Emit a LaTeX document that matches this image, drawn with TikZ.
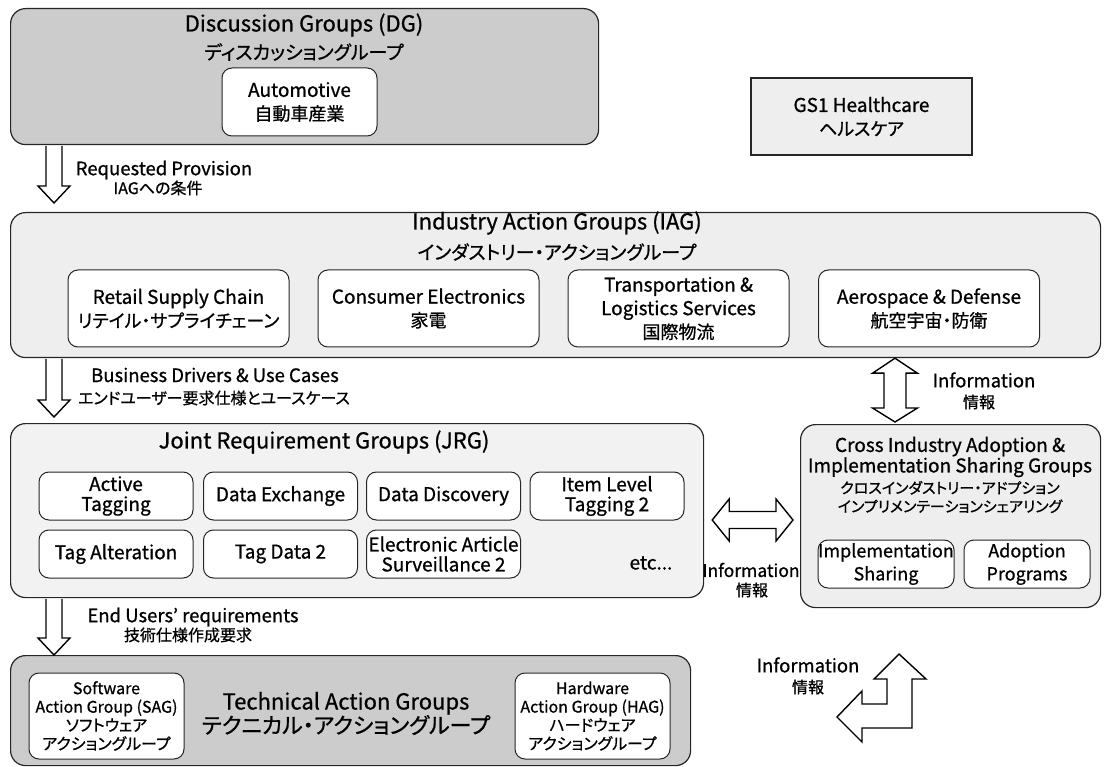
\documentclass[tikz,border=0pt]{standalone}
\usepackage{fontspec}
\setmainfont{Noto Sans CJK JP}[RawFeature=+palt, RawFeature={embolden=0.8}]
\usetikzlibrary{calc}

% font sizes
\newcommand\fTitle{\fontsize{22}{26}\selectfont}
\newcommand\fSub{\fontsize{19}{22}\selectfont}
\newcommand\fIn{\fontsize{19}{23.5}\selectfont}
\newcommand\fInJ{\fontsize{18}{23.5}\selectfont}
\newcommand\fCell{\fontsize{19}{20}\selectfont}
\newcommand\fLab{\fontsize{18.5}{22}\selectfont}
\newcommand\fLabJ{\fontsize{16}{18}\selectfont}

\definecolor{dgfill}{gray}{0.80}
\definecolor{lightfill}{gray}{0.935}
\definecolor{jrgfill}{gray}{0.95}
\definecolor{edge}{gray}{0.15}

\tikzset{
  groupbox/.style={draw=edge, line width=1.2pt, rounded corners=15pt, inner sep=0pt},
  subbox/.style={draw=edge, line width=1pt, rounded corners=10pt, fill=white,
                 align=center, inner sep=0pt, font=\fIn},
  caption/.style={align=center, inner sep=0pt},
  hollow/.style={draw=black, line width=1.4pt, fill=white, line join=miter},
}

% hollow block arrow pointing down: x position, source node, target node, gap above target
\newcommand\DownBlock[4]{%
  \filldraw[hollow] let \p1=(#1,0 |- #2), \p2=(#1,0 |- #3) in
    (\x1-8pt,\y1-0.6pt) -- (\x1-8pt,\y2+#4pt+17pt) -- (\x1-16pt,\y2+#4pt+17pt)
    -- (\x1,\y2+#4pt) -- (\x1+16pt,\y2+#4pt+17pt) -- (\x1+8pt,\y2+#4pt+17pt)
    -- (\x1+8pt,\y1-0.6pt);}

\begin{document}
\begin{tikzpicture}[x=1pt,y=-1pt]
\useasboundingbox (0,0) rectangle (1109,767);

% ---------- Discussion Groups ----------
\node[groupbox, fill=dgfill, minimum width=588pt, minimum height=136pt, anchor=north west] (dg) at (10,8) {};
\node[caption, font=\fTitle] (dgtitle) at (304,25) {Discussion Groups (DG)};
\node[caption, font=\fSub] (dgjp) at (304,52) {ディスカッショングループ};
\node[subbox, minimum width=155pt, minimum height=68pt] (auto) at (299.5,102)
  {Automotive\\\fInJ 自動車産業};

% ---------- GS1 Healthcare ----------
\node[draw=edge, line width=1.2pt, fill=lightfill, minimum width=221pt, minimum height=77pt,
      align=center, inner sep=0pt, font=\fIn] (gs1) at (861.5,116.5)
  {GS1 Healthcare\\\fInJ ヘルスケア};

% ---------- Industry Action Groups ----------
\node[groupbox, fill=lightfill, minimum width=1090pt, minimum height=145pt, anchor=north west] (iag) at (10,212) {};
\node[caption, font=\fTitle] (iagtitle) at (557,223) {Industry Action Groups (IAG)};
\node[caption, font=\fSub] (iagjp) at (557,252) {インダストリー・アクショングループ};
\begin{scope}[every node/.style={subbox, minimum width=221pt, minimum height=77pt}]
  \node (retail) at (178.5,308.5) {Retail Supply Chain\\\fInJ リテイル・サプライチェーン};
  \node (consumer) at (428.5,308.5) {Consumer Electronics\\\fInJ 家電};
  \node (transport) at (678.5,308.5) {Transportation \&\\Logistics Services\\\fInJ 国際物流};
  \node (aero) at (929,308.5) {Aerospace \& Defense\\\fInJ 航空宇宙・防衛};
\end{scope}

% ---------- Joint Requirement Groups ----------
\node[groupbox, fill=jrgfill, minimum width=693pt, minimum height=174pt, anchor=north west] (jrg) at (10,423) {};
\node[caption, font=\fTitle] (jrgtitle) at (324,442) {Joint Requirement Groups (JRG)};
\begin{scope}[every node/.style={subbox, minimum width=154pt, minimum height=48pt, font=\fCell}]
  \node (active) at (116,496) {Active\\Tagging};
  \node (exchange) at (280.5,496) {Data Exchange};
  \node (discovery) at (443.5,496) {Data Discovery};
  \node (itemlevel) at (607,496) {Item Level\\Tagging 2};
  \node (alteration) at (116,554) {Tag Alteration};
  \node (tagdata) at (280.5,554) {Tag Data 2};
  \node (eas) at (443.5,554) {Electronic Article\\Surveillance 2};
\end{scope}
\node[caption, font=\fCell] (etc) at (651,563) {etc...};

% ---------- Cross Industry Adoption & Implementation Sharing ----------
\node[groupbox, fill=lightfill, minimum width=300pt, minimum height=183pt, anchor=north west] (cia) at (800,424) {};
\node[caption, font=\fontsize{19}{20.5}\selectfont] (ciatitle) at (950,457)
  {Cross Industry Adoption \&\\Implementation Sharing Groups};
\node[caption, font=\fontsize{15}{18.5}\selectfont] (ciajp) at (950,497)
  {クロスインダストリー・アドプション\\インプリメンテーションシェアリング};
\begin{scope}[every node/.style={subbox, minimum height=48pt, font=\fontsize{18}{23}\selectfont}]
  \node[minimum width=136pt] (implsharing) at (886,564) {Implementation\\Sharing};
  \node[minimum width=126pt] (adoption) at (1027,564) {Adoption\\Programs};
\end{scope}

% ---------- Technical Action Groups ----------
\node[groupbox, fill=dgfill, minimum width=680pt, minimum height=110pt, anchor=north west] (tag) at (10,655) {};
\node[caption, font=\fontsize{22}{24}\selectfont] (tagtitle) at (346,713.5)
  {Technical Action Groups\\テクニカル・アクショングループ};
\begin{scope}[every node/.style={subbox, minimum width=155pt, minimum height=86pt, font=\fontsize{16}{18.5}\selectfont}]
  \node (sag) at (106.5,716) {Software\\Action Group (SAG)\\ソフトウェア\\アクショングループ};
  \node (hag) at (592.5,716) {Hardware\\Action Group (HAG)\\ハードウェア\\アクショングループ};
\end{scope}

% ---------- downward block arrows ----------
\DownBlock{54}{dg.south}{iag.north}{9}
\DownBlock{54}{iag.south}{jrg.north}{6}
\DownBlock{54}{jrg.south}{tag.north}{0}

\node[caption, font=\fLab] (rp) at (164,170) {Requested Provision};
\node[caption, font=\fLabJ] (rpjp) at (158,188) {IAGへの条件};
\node[caption, font=\fLab] (bd) at (215,375) {Business Drivers \& Use Cases};
\node[caption, font=\fLabJ] (bdjp) at (214,398) {エンドユーザー要求仕様とユースケース};
\node[caption, font=\fLab] (eu) at (193,617) {End Users' requirements};
\node[caption, font=\fontsize{16}{18}\selectfont] (eujp) at (188,635) {技術仕様作成要求};

% ---------- IAG <-> CIA (vertical double block arrow) ----------
\filldraw[hollow] let \p1=(895,0 |- iag.south), \p2=(895,0 |- cia.north) in
  (\x1,\y1) -- (\x1+22.5pt,\y1-15pt) -- (\x1+11pt,\y1-15pt) -- (\x1+11pt,\y2+16pt)
  -- (\x1+22.5pt,\y2+16pt) -- (\x1,\y2+2pt) -- (\x1-22.5pt,\y2+16pt) -- (\x1-11pt,\y2+16pt)
  -- (\x1-11pt,\y1-15pt) -- (\x1-22.5pt,\y1-15pt) -- cycle;
\node[caption, font=\fLab] (info1) at (984,380) {Information};
\node[caption, font=\fLabJ] (info1jp) at (979,402) {情報};

% ---------- JRG <-> CIA (horizontal double block arrow) ----------
\filldraw[hollow] let \p1=(jrg.east |- 0,520), \p2=(cia.west |- 0,520) in
  (\x1+8pt,\y1) -- (\x1+25pt,\y1+21pt) -- (\x1+25pt,\y1+8.5pt) -- (\x2-24pt,\y1+8.5pt)
  -- (\x2-24pt,\y1+21pt) -- (\x2-7pt,\y1) -- (\x2-24pt,\y1-21pt) -- (\x2-24pt,\y1-8.5pt)
  -- (\x1+25pt,\y1-8.5pt) -- (\x1+25pt,\y1-21pt) -- cycle;
\node[caption, font=\fontsize{17.5}{20}\selectfont] (info2) at (751,570) {Information};
\node[caption, font=\fLabJ] (info2jp) at (752,590) {情報};

% ---------- bent two-way block arrow ----------
\filldraw[hollow] (899,654) -- (926,679) -- (912,679) -- (912,728) -- (862,728) -- (862,742)
  -- (837,717) -- (862,691) -- (862,704) -- (887,704) -- (887,679) -- (874,679) -- cycle;
\node[caption, font=\fLab] (info3) at (808,665) {Information};
\node[caption, font=\fLabJ] (info3jp) at (808,687) {情報};

\end{tikzpicture}
\end{document}
